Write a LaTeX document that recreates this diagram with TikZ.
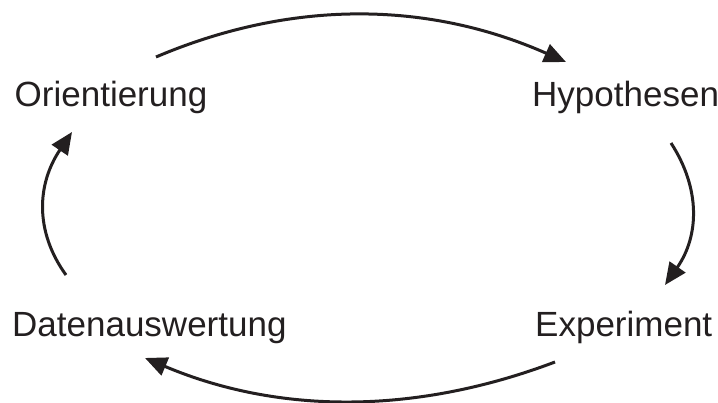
\documentclass[tikz,border=0pt]{standalone}
\usepackage{fontspec}
\setmainfont{Liberation Sans}
\usetikzlibrary{arrows.meta}
\definecolor{ink}{HTML}{231F20}
\begin{document}
\begin{tikzpicture}[x=1pt,y=-1pt,
  lbl/.style={anchor=base west,inner sep=0pt,text=ink,font=\fontsize{35}{40}\selectfont},
  cyc/.style={draw=ink,line width=3pt,-{Triangle[length=22pt,width=19pt]}}]
\useasboundingbox (0,0) rectangle (718,403);
\node[lbl] (ori) at (14.5,107) {Orientierung};
\node[lbl] (hyp) at (532,107) {Hypothesen};
\node[lbl] (dat) at (12,337) {Datenauswertung};
\node[lbl] (exp) at (535,337) {Experiment};
\coordinate (a1) at (156,57);
\coordinate (a2) at (566,62);
\coordinate (b1) at (671,143);
\coordinate (b2) at (665,285);
\coordinate (c1) at (555,362);
\coordinate (c2) at (145,358);
\coordinate (d1) at (66,275);
\coordinate (d2) at (72,132);
\draw[cyc] (a1) .. controls (291.7,-0.7) and (428,1) .. (a2);
\draw[cyc] (b1) .. controls (701,189.3) and (699,236.3) .. (b2);
\draw[cyc] (c1) .. controls (414,415.3) and (277.7,414) .. (c2);
\draw[cyc] (d1) .. controls (34.7,231.7) and (36.7,184.3) .. (d2);
\end{tikzpicture}
\end{document}
